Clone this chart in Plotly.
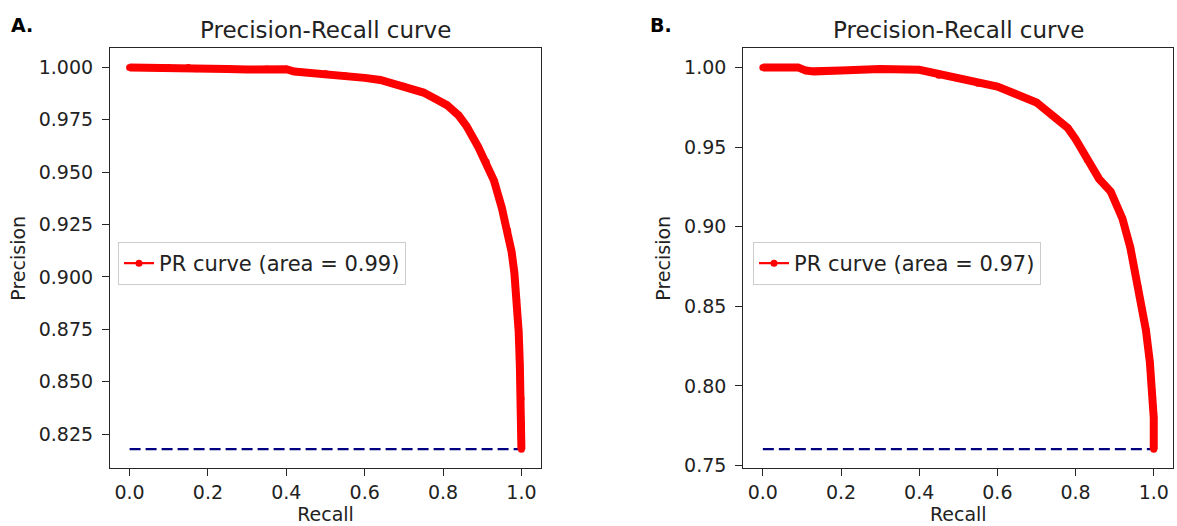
import plotly.graph_objects as go

# ---------------- data ----------------
recall_a = [0.0, 0.05, 0.10, 0.15, 0.17, 0.25, 0.30, 0.35, 0.40, 0.42, 0.50, 0.55, 0.60, 0.64,
            0.70, 0.75, 0.78, 0.81, 0.84, 0.86, 0.89, 0.91, 0.93, 0.95, 0.965, 0.975, 0.982,
            0.988, 0.993, 0.996, 0.999, 1.0, 1.0]
precision_a = [1.0, 1.0, 1.0, 1.0, 0.9993, 0.9992, 0.9990, 0.9992, 0.9991, 0.998, 0.997, 0.996, 0.995, 0.994,
               0.991, 0.988, 0.985, 0.982, 0.977, 0.972, 0.962, 0.955, 0.946, 0.933, 0.922, 0.912, 0.902,
               0.889, 0.874, 0.858, 0.842, 0.83, 0.8178]
baseline_a = 0.8178

recall_b = [0.0, 0.05, 0.09, 0.11, 0.13, 0.20, 0.30, 0.40, 0.43, 0.45, 0.50, 0.55, 0.60, 0.65, 0.70,
            0.75, 0.78, 0.80, 0.83, 0.86, 0.89, 0.92, 0.94, 0.96, 0.98, 0.99, 0.996, 1.0, 1.0]
precision_b = [1.0, 1.0, 1.0, 0.998, 0.9975, 0.998, 0.999, 0.9985, 0.997, 0.995, 0.993, 0.990, 0.988, 0.983, 0.978,
               0.968, 0.962, 0.955, 0.942, 0.930, 0.922, 0.905, 0.887, 0.862, 0.835, 0.815, 0.795, 0.78, 0.7603]
baseline_b = 0.7603

label_a = "PR curve (area = 0.99)"
label_b = "PR curve (area = 0.97)"
title_text = "Precision-Recall curve"
panel_labels = ["A.", "B."]

x_ticks = [0.0, 0.2, 0.4, 0.6, 0.8, 1.0]
y_ticks_a = [0.825, 0.850, 0.875, 0.900, 0.925, 0.950, 0.975, 1.000]
y_ticks_b = [0.75, 0.80, 0.85, 0.90, 0.95, 1.00]

# ---------------- style ----------------
FONT = "DejaVu Sans"
W, H = 1177, 526
AX = "#262626"


def padded(lo, hi, frac=0.05):
    d = (hi - lo) * frac
    return [lo - d, hi + d]


fig = go.Figure()

panels = [
    dict(r=recall_a, p=precision_a, base=baseline_a, label=label_a, xa="x", ya="y", leg="legend"),
    dict(r=recall_b, p=precision_b, base=baseline_b, label=label_b, xa="x2", ya="y2", leg="legend2"),
]

for pn in panels:
    # dashed baseline
    fig.add_trace(go.Scatter(
        x=[0, 1], y=[pn["base"], pn["base"]], mode="lines",
        line=dict(color="navy", width=2.2, dash="11px,5px"),
        xaxis=pn["xa"], yaxis=pn["ya"], showlegend=False, hoverinfo="skip"))
    # thick PR curve
    fig.add_trace(go.Scatter(
        x=pn["r"], y=pn["p"], mode="lines+markers",
        line=dict(color="red", width=8),
        marker=dict(color="red", size=7),
        xaxis=pn["xa"], yaxis=pn["ya"], showlegend=False))
    # legend entry (line + dot marker, as in the original legend)
    fig.add_trace(go.Scatter(
        x=[None], y=[None], mode="lines+markers", name=pn["label"],
        line=dict(color="red", width=2.2), marker=dict(color="red", size=7),
        xaxis=pn["xa"], yaxis=pn["ya"], legend=pn["leg"], showlegend=True))

ydom = [1 - 468.3 / H, 1 - 48.3 / H]
xdom_a = [110 / W, 541 / W]
xdom_b = [743.3 / W, 1173.3 / W]

common_axis = dict(
    showline=True, linecolor=AX, linewidth=1.2, mirror=True,
    ticks="outside", ticklen=7, tickwidth=1.2, tickcolor=AX,
    showgrid=False, zeroline=False, automargin=False,
    tickfont=dict(family=FONT, size=19, color="#222"),
)

fig.update_layout(
    width=W, height=H,
    margin=dict(l=0, r=0, t=0, b=0, autoexpand=False),
    paper_bgcolor="white", plot_bgcolor="white",
    font=dict(family=FONT, size=19, color="#222"),
    xaxis=dict(domain=xdom_a, anchor="y", range=padded(0, 1),
               tickvals=x_ticks, ticktext=[f"{v:.1f}" for v in x_ticks],
               title=dict(text="Recall", font=dict(family=FONT, size=19), standoff=4),
               **common_axis),
    yaxis=dict(domain=ydom, anchor="x",
               range=padded(min(min(precision_a), baseline_a), max(precision_a)),
               tickvals=y_ticks_a, ticktext=[f"{v:.3f}" for v in y_ticks_a],
               ticklabelstandoff=5,
               title=dict(text="Precision", font=dict(family=FONT, size=19), standoff=8),
               **common_axis),
    xaxis2=dict(domain=xdom_b, anchor="y2", range=padded(0, 1),
                tickvals=x_ticks, ticktext=[f"{v:.1f}" for v in x_ticks],
                title=dict(text="Recall", font=dict(family=FONT, size=19), standoff=4),
                **common_axis),
    yaxis2=dict(domain=ydom, anchor="x2",
                range=padded(min(min(precision_b), baseline_b), max(precision_b)),
                tickvals=y_ticks_b, ticktext=[f"{v:.2f}" for v in y_ticks_b],
                ticklabelstandoff=5,
                title=dict(text="Precision", font=dict(family=FONT, size=19), standoff=8),
                **common_axis),
    legend=dict(x=118 / W, y=1 - 242 / H, xanchor="left", yanchor="top",
                bgcolor="white", bordercolor="#cccccc", borderwidth=1,
                font=dict(family=FONT, size=21, color="#222"), itemwidth=30),
    legend2=dict(x=753 / W, y=1 - 242 / H, xanchor="left", yanchor="top",
                 bgcolor="white", bordercolor="#cccccc", borderwidth=1,
                 font=dict(family=FONT, size=21, color="#222"), itemwidth=30),
    showlegend=True,
)

# subplot titles
for xd in (xdom_a, xdom_b):
    fig.add_annotation(text=title_text, xref="paper", yref="paper",
                       x=(xd[0] + xd[1]) / 2, y=1 - 30 / H, xanchor="center", yanchor="middle",
                       showarrow=False, font=dict(family=FONT, size=23, color="#222"))

# panel letters
for lab, px in zip(panel_labels, (9, 648)):
    fig.add_annotation(text=f"<b>{lab}</b>", xref="paper", yref="paper",
                       x=px / W, y=1 - 25 / H, xanchor="left", yanchor="middle",
                       showarrow=False, font=dict(family=FONT, size=19, color="black"))

fig.write_html("out.html")
